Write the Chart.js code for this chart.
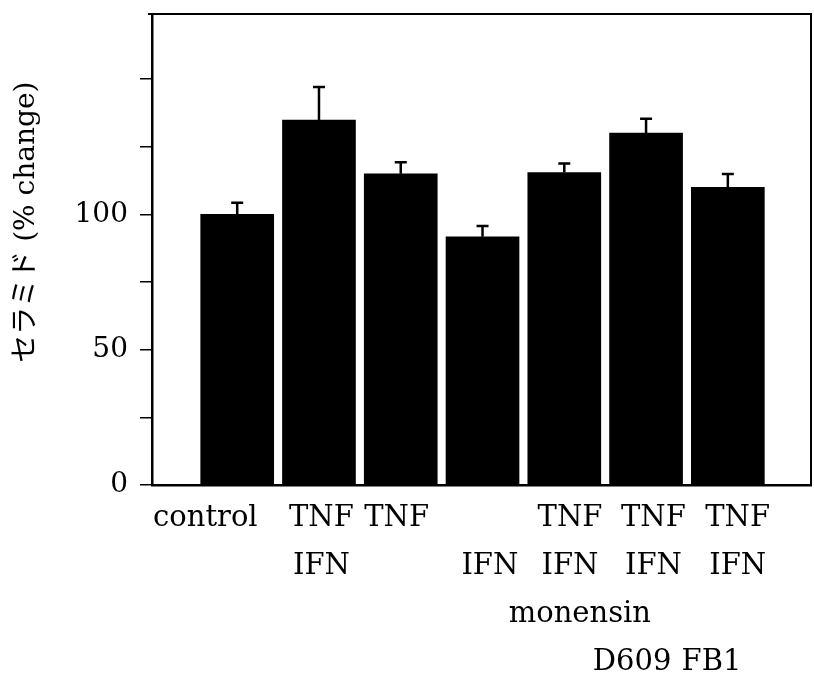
<!DOCTYPE html>
<html>
<head>
<meta charset="utf-8">
<script src="https://cdn.jsdelivr.net/npm/chart.js@4.4.1/dist/chart.umd.min.js"></script>
<style>
  html, body { margin: 0; padding: 0; background: #fff; }
  #wrap { width: 814px; height: 680px; }
</style>
</head>
<body>
<div id="wrap"><canvas id="ceramideChart"></canvas></div>
<script>
// ceramide level per treatment, % of control
const groups = ["control", "TNF IFN", "TNF", "IFN", "TNF IFN monensin", "TNF IFN D609", "TNF IFN FB1"];
const ceramide = [100, 134.8, 115.0, 91.7, 115.4, 130.0, 110.0];
const errors = [4.3, 12.2, 4.2, 4.0, 3.4, 5.3, 4.9];

const yLabelled = [0, 50, 100];

// x axis text, placed on the bar index scale (rows: TNF / IFN / monensin / D609 FB1)
const xLabelAt = [-0.39, 1.03, 1.95, 3.09, 4.07, 5.09, 6.12, 4.19, 4.83, 5.80];
const xLabelLines = [
  ["control"],
  ["TNF", "IFN"],
  ["TNF"],
  ["", "IFN"],
  ["TNF", "IFN"],
  ["TNF", "IFN"],
  ["TNF", "IFN"],
  ["", "", "monensin"],
  ["", "", "", "D609"],
  ["", "", "", "FB1"],
];

const serif = "'DejaVu Serif', 'Liberation Serif', serif";

const errorBars = {
  id: "errorBars",
  afterDatasetsDraw(chart) {
    const ctx = chart.ctx;
    const y = chart.scales.y;
    const meta = chart.getDatasetMeta(0);
    ctx.save();
    ctx.strokeStyle = "#000";
    ctx.lineWidth = 2.5;
    meta.data.forEach((bar, i) => {
      const top = y.getPixelForValue(ceramide[i] + errors[i]);
      ctx.beginPath();
      ctx.moveTo(bar.x, bar.y);
      ctx.lineTo(bar.x, top);
      ctx.moveTo(bar.x - 6, top);
      ctx.lineTo(bar.x + 6, top);
      ctx.stroke();
    });
    ctx.restore();
  },
};

const frame = {
  id: "frame",
  afterDraw(chart) {
    const { left, right, top, bottom } = chart.chartArea;
    const ctx = chart.ctx;
    ctx.save();
    ctx.strokeStyle = "#000";
    ctx.lineWidth = 2;
    ctx.beginPath();
    ctx.moveTo(left - 4, top);
    ctx.lineTo(right, top);
    ctx.lineTo(right, bottom);
    ctx.stroke();
    ctx.restore();
  },
};

new Chart(document.getElementById("ceramideChart"), {
  type: "bar",
  data: {
    datasets: [
      {
        label: "ceramide",
        data: ceramide.map((v, i) => ({ x: i, y: v })),
        backgroundColor: "#000",
        borderWidth: 0,
        barThickness: 73,
      },
    ],
  },
  options: {
    responsive: true,
    maintainAspectRatio: false,
    animation: false,
    layout: { padding: { top: 14, right: 3, left: 0, bottom: 0 } },
    plugins: {
      legend: { display: false },
      tooltip: { enabled: false },
    },
    scales: {
      x: {
        type: "linear",
        offset: false,
        min: -1.042,
        max: 7.017,
        grid: { display: false },
        border: { display: true, color: "#000", width: 2.5 },
        afterFit: (s) => { s.height = 195; },
        afterBuildTicks: (s) => {
          s.ticks = xLabelAt.map((v) => ({ value: v }));
        },
        ticks: {
          autoSkip: false,
          maxRotation: 0,
          minRotation: 0,
          padding: 1,
          color: "#000",
          font: { family: serif, size: 29, lineHeight: 1.66 },
          callback: (v, i) => xLabelLines[i],
        },
      },
      y: {
        min: 0,
        max: 174,
        grid: {
          drawOnChartArea: false,
          drawTicks: true,
          tickLength: 12,
          color: "#000",
          lineWidth: 1.5,
        },
        border: { display: true, color: "#000", width: 2.5 },
        afterFit: (s) => { s.width = 152; },
        ticks: {
          stepSize: 25,
          includeBounds: false,
          padding: 12,
          color: "#000",
          font: { family: serif, size: 28, lineHeight: 0.1 },
          callback: (v) => (yLabelled.includes(v) ? v : ""),
        },
        title: {
          display: true,
          text: "\u3000   セラミド (% change)",
          color: "#000",
          padding: { top: 10, bottom: 0 },
          font: { family: "'DejaVu Serif', 'Noto Sans CJK JP', serif", size: 28 },
        },
      },
    },
  },
  plugins: [errorBars, frame],
});
</script>
</body>
</html>
